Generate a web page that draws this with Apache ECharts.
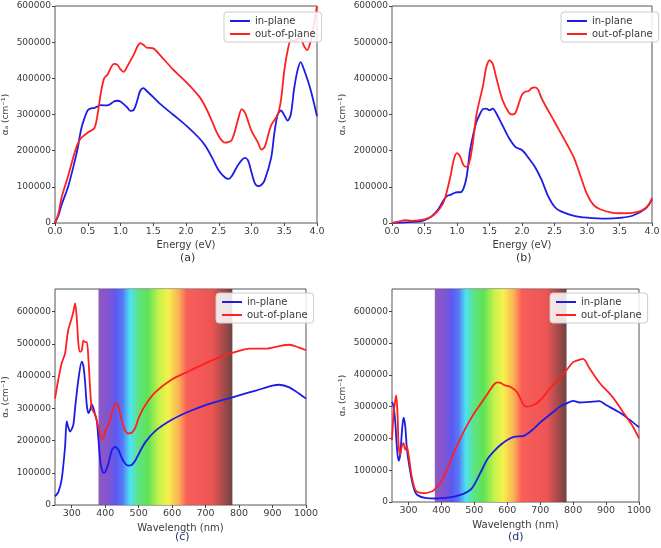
<!DOCTYPE html>
<html><head><meta charset="utf-8">
<script src="https://cdn.jsdelivr.net/npm/echarts@6/dist/echarts.min.js"></script>
<style>html,body{margin:0;padding:0;background:#fff}#c{width:661px;height:548px}</style>
</head><body><div id="c"></div>
<script>
// Panel (a): energy (eV)
const aInE = [0,0.05,0.1,0.2,0.3,0.35,0.4,0.45,0.5,0.55,0.6,0.7,0.8,0.9,0.95,1.0,1.1,1.15,1.2,1.25,1.3,1.35,1.4,1.5,1.6,1.8,2.0,2.2,2.3,2.4,2.5,2.6,2.65,2.7,2.8,2.9,2.95,3.0,3.05,3.1,3.15,3.2,3.3,3.35,3.4,3.45,3.5,3.55,3.6,3.65,3.7,3.75,3.8,3.9,4.0];
const aIn  = [0,20000,50000,100000,170000,210000,260000,290000,312000,317000,318000,326000,325000,336000,338000,336000,320000,310000,312000,335000,365000,373000,365000,348000,330000,300000,270000,235000,212000,180000,145000,125000,122000,130000,162000,180000,172000,140000,110000,102000,105000,118000,180000,250000,300000,311000,298000,283000,300000,370000,420000,445000,425000,370000,295000];
const aOutE = [0,0.05,0.1,0.2,0.3,0.35,0.4,0.5,0.6,0.65,0.7,0.75,0.8,0.9,0.95,1.0,1.05,1.1,1.2,1.3,1.35,1.4,1.5,1.6,1.8,2.0,2.2,2.3,2.4,2.5,2.6,2.7,2.8,2.85,2.9,3.0,3.1,3.15,3.2,3.3,3.4,3.45,3.5,3.55,3.6,3.65,3.7,3.75,3.8,3.85,3.9,3.95,4.0];
const aOut = [0,25000,70000,130000,195000,220000,235000,250000,262000,300000,360000,400000,410000,440000,438000,425000,418000,432000,465000,497000,493000,485000,483000,465000,425000,390000,350000,320000,280000,240000,222000,230000,290000,315000,305000,255000,222000,203000,210000,270000,300000,340000,420000,475000,505000,503000,510000,510000,490000,478000,500000,545000,600000];

// Panel (b): energy (eV)
const bInE = [0,0.2,0.4,0.5,0.6,0.7,0.8,0.85,0.9,1.0,1.05,1.1,1.15,1.2,1.25,1.3,1.35,1.4,1.45,1.5,1.55,1.6,1.7,1.8,1.9,2.0,2.1,2.2,2.3,2.4,2.5,2.6,2.8,3.0,3.3,3.5,3.7,3.9,4.0];
const bIn  = [0,2000,4000,8000,17000,35000,65000,75000,78000,85000,85000,95000,130000,200000,245000,280000,300000,315000,316000,312000,316000,305000,270000,235000,210000,202000,180000,155000,120000,75000,45000,32000,20000,15000,12000,14000,20000,40000,65000];
const bOutE = [0,0.1,0.2,0.3,0.4,0.5,0.6,0.7,0.8,0.9,0.95,1.0,1.05,1.1,1.15,1.2,1.25,1.3,1.4,1.45,1.5,1.55,1.6,1.7,1.8,1.85,1.9,1.95,2.0,2.05,2.1,2.15,2.2,2.25,2.3,2.5,2.7,2.8,2.9,3.0,3.1,3.2,3.4,3.5,3.7,3.85,3.95,4.0];
const bOut = [0,4000,8000,6000,7000,10000,17000,32000,60000,130000,175000,193000,183000,160000,155000,175000,230000,300000,380000,430000,450000,440000,405000,340000,305000,300000,305000,330000,355000,363000,365000,373000,375000,368000,345000,280000,215000,180000,130000,80000,50000,38000,28000,27000,28000,35000,50000,70000];

// Panel (c): wavelength (nm)
const cInW = [250,260,270,280,285,290,295,300,305,310,320,330,335,340,345,350,355,360,365,370,375,380,385,390,395,400,410,420,430,440,450,460,470,480,490,500,520,550,600,650,700,750,800,850,900,920,950,980,1000];
const cIn  = [27000,40000,80000,180000,260000,240000,228000,235000,250000,300000,390000,445000,430000,380000,310000,285000,295000,312000,300000,280000,260000,200000,140000,110000,100000,102000,130000,170000,180000,170000,145000,128000,122000,125000,138000,158000,195000,230000,265000,290000,310000,325000,340000,355000,370000,373000,365000,345000,330000];
const cOutW = [250,260,270,280,285,290,300,305,310,315,320,325,330,335,340,345,350,355,360,370,380,390,395,400,410,420,430,435,440,450,460,470,480,490,500,520,550,600,650,700,750,800,830,880,920,950,980,1000];
const cOut = [330000,390000,440000,470000,510000,545000,580000,600000,625000,580000,500000,475000,480000,510000,505000,505000,450000,360000,300000,280000,240000,205000,210000,230000,250000,285000,313000,316000,305000,260000,230000,222000,225000,240000,270000,310000,350000,390000,415000,440000,462000,478000,485000,485000,493000,497000,488000,480000];

// Panel (d): wavelength (nm)
const dInW = [250,255,260,265,270,275,280,285,290,295,300,310,320,330,350,380,400,430,450,470,490,500,520,540,560,580,600,620,650,680,700,730,760,780,800,820,850,880,900,940,970,1000];
const dIn  = [315000,300000,250000,170000,130000,150000,220000,265000,240000,170000,130000,70000,32000,20000,13000,11000,12000,15000,20000,27000,40000,55000,95000,135000,160000,180000,195000,205000,208000,230000,250000,275000,300000,310000,318000,313000,315000,317000,305000,282000,260000,235000];
const dOutW = [250,255,260,263,267,270,275,280,285,290,295,300,310,320,330,350,370,380,400,420,440,460,480,500,520,540,560,570,580,590,610,630,650,660,680,700,720,750,780,800,820,830,850,880,920,950,980,1000];
const dOut = [195000,280000,320000,335000,270000,180000,150000,175000,185000,165000,175000,150000,80000,40000,30000,28000,33000,40000,65000,110000,160000,205000,245000,280000,310000,340000,370000,376000,375000,368000,362000,345000,305000,300000,305000,320000,345000,380000,415000,440000,448000,450000,420000,375000,330000,285000,240000,200000];

const energyTicks = [0,0.5,1,1.5,2,2.5,3,3.5,4];
const waveTicks = [300,400,500,600,700,800,900,1000];
const alphaTicks = [0,100000,200000,300000,400000,500000,600000];
const seriesNames = ['in-plane','out-of-plane'];
const visibleRange = [380,780];

const zip = (xs, ys) => xs.map((x,i)=>[x, ys[i]]);
const BLUE = '#1c1ce6', RED = '#ff2020';
const txt = '#3a3a3a';
const ff = 'DejaVu Sans, sans-serif';

const grids = [
  {left:55, top:6, width:262, height:217},
  {left:392, top:6, width:260, height:217},
  {left:55, top:289, width:251, height:216},
  {left:392, top:289, width:247, height:213}
];
const isWave = [false,false,true,true];

const xAxes = grids.map((g,i)=>({
  type:'value', gridIndex:i,
  min: isWave[i]?250:0, max: isWave[i]?1000:4,
  name: isWave[i]?'Wavelength (nm)':'Energy (eV)',
  nameLocation:'middle', nameGap: isWave[i]?18:17,
  nameTextStyle:{fontSize:10, color:txt, fontFamily:ff},
  axisLine:{show:false},
  axisTick:{show:true, inside:false, length:3, lineStyle:{color:'#444'}, customValues: isWave[i]?waveTicks:energyTicks},
  axisLabel:{fontSize:9.5, color:txt, fontFamily:ff, margin:4, customValues: isWave[i]?waveTicks:energyTicks,
    formatter: v => isWave[i] ? String(v) : v.toFixed(1)},
  splitLine:{show:false}
}));
const yAxes = grids.map((g,i)=>({
  type:'value', gridIndex:i, min:0, max: isWave[i]?670000:600000,
  name:'αₐ (cm⁻¹)', nameLocation:'middle', nameGap:45, nameRotate:90,
  nameTextStyle:{fontSize:9, color:txt, fontFamily:ff},
  axisLine:{show:false},
  axisTick:{show:true, length:3, lineStyle:{color:'#444'}, customValues: alphaTicks},
  axisLabel:{fontSize:9, color:txt, fontFamily:ff, margin:4, customValues: alphaTicks, formatter: v => String(v)},
  splitLine:{show:false}
}));

const spectrum = new echarts.graphic.LinearGradient(0,0,1,0,[
  {offset:0, color:'rgba(135,75,185,0.92)'},
  {offset:0.08, color:'rgba(115,70,210,0.92)'},
  {offset:0.13, color:'rgba(80,75,240,0.92)'},
  {offset:0.18, color:'rgba(70,110,245,0.92)'},
  {offset:0.235, color:'rgba(60,225,240,0.92)'},
  {offset:0.3, color:'rgba(80,225,120,0.92)'},
  {offset:0.37, color:'rgba(80,225,70,0.92)'},
  {offset:0.45, color:'rgba(190,240,60,0.92)'},
  {offset:0.52, color:'rgba(245,240,60,0.92)'},
  {offset:0.6, color:'rgba(250,170,70,0.92)'},
  {offset:0.66, color:'rgba(248,80,75,0.92)'},
  {offset:0.85, color:'rgba(235,70,70,0.92)'},
  {offset:1, color:'rgba(100,50,50,0.92)'}
]);

const panels = [[aInE,aIn,aOutE,aOut],[bInE,bIn,bOutE,bOut],[cInW,cIn,cOutW,cOut],[dInW,dIn,dOutW,dOut]];
const series = [];
panels.forEach((p,i)=>{
  const s1 = {name:seriesNames[0], type:'line', xAxisIndex:i, yAxisIndex:i, data:zip(p[0],p[1]), smooth:0.3, showSymbol:false, lineStyle:{color:BLUE,width:1.8}, itemStyle:{color:BLUE}, z:3};
  const s2 = {name:seriesNames[1], type:'line', xAxisIndex:i, yAxisIndex:i, data:zip(p[2],p[3]), smooth:0.3, showSymbol:false, lineStyle:{color:RED,width:1.8}, itemStyle:{color:RED}, z:3};
  if (isWave[i]) {
    s1.markArea = {silent:true, z:1, itemStyle:{color:spectrum}, data:[[{xAxis:visibleRange[0], yAxis:0},{xAxis:visibleRange[1], yAxis:670000}]]};
  }
  series.push(s1, s2);
});

const legendPos = [{left:224, top:12},{left:561, top:12},{left:216, top:293},{left:550, top:293}];
const legends = legendPos.map(p=>({
  left:p.left, top:p.top, orient:'vertical', data:seriesNames,
  icon:'rect', itemWidth:20, itemHeight:2, itemGap:3,
  padding:[4,6,3,6], borderColor:'#ccc', borderWidth:1, borderRadius:3,
  backgroundColor:'rgba(255,255,255,0.85)',
  textStyle:{fontSize:10, color:txt, fontFamily:ff}, selectedMode:false
}));

const chart = echarts.init(document.getElementById('c'), null, {renderer:'canvas'});
chart.setOption({
  animation:false,
  backgroundColor:'#fff',
  grid: grids.map(g=>Object.assign({show:true, borderColor:'#555', borderWidth:1, backgroundColor:'transparent', containLabel:false, outerBoundsMode:'none'}, g)),
  xAxis:xAxes, yAxis:yAxes, series, legend:legends,
  graphic:[
    {type:'text', left:180, top:253, style:{text:'(a)', fill:'#333', font:'11px '+ff}},
    {type:'text', left:516, top:253, style:{text:'(b)', fill:'#333', font:'11px '+ff}},
    {type:'text', left:175, top:532, style:{text:'(c)', fill:'#1f3070', font:'11px '+ff}},
    {type:'text', left:508, top:532, style:{text:'(d)', fill:'#1f3070', font:'11px '+ff}}
  ]
});
</script></body></html>
